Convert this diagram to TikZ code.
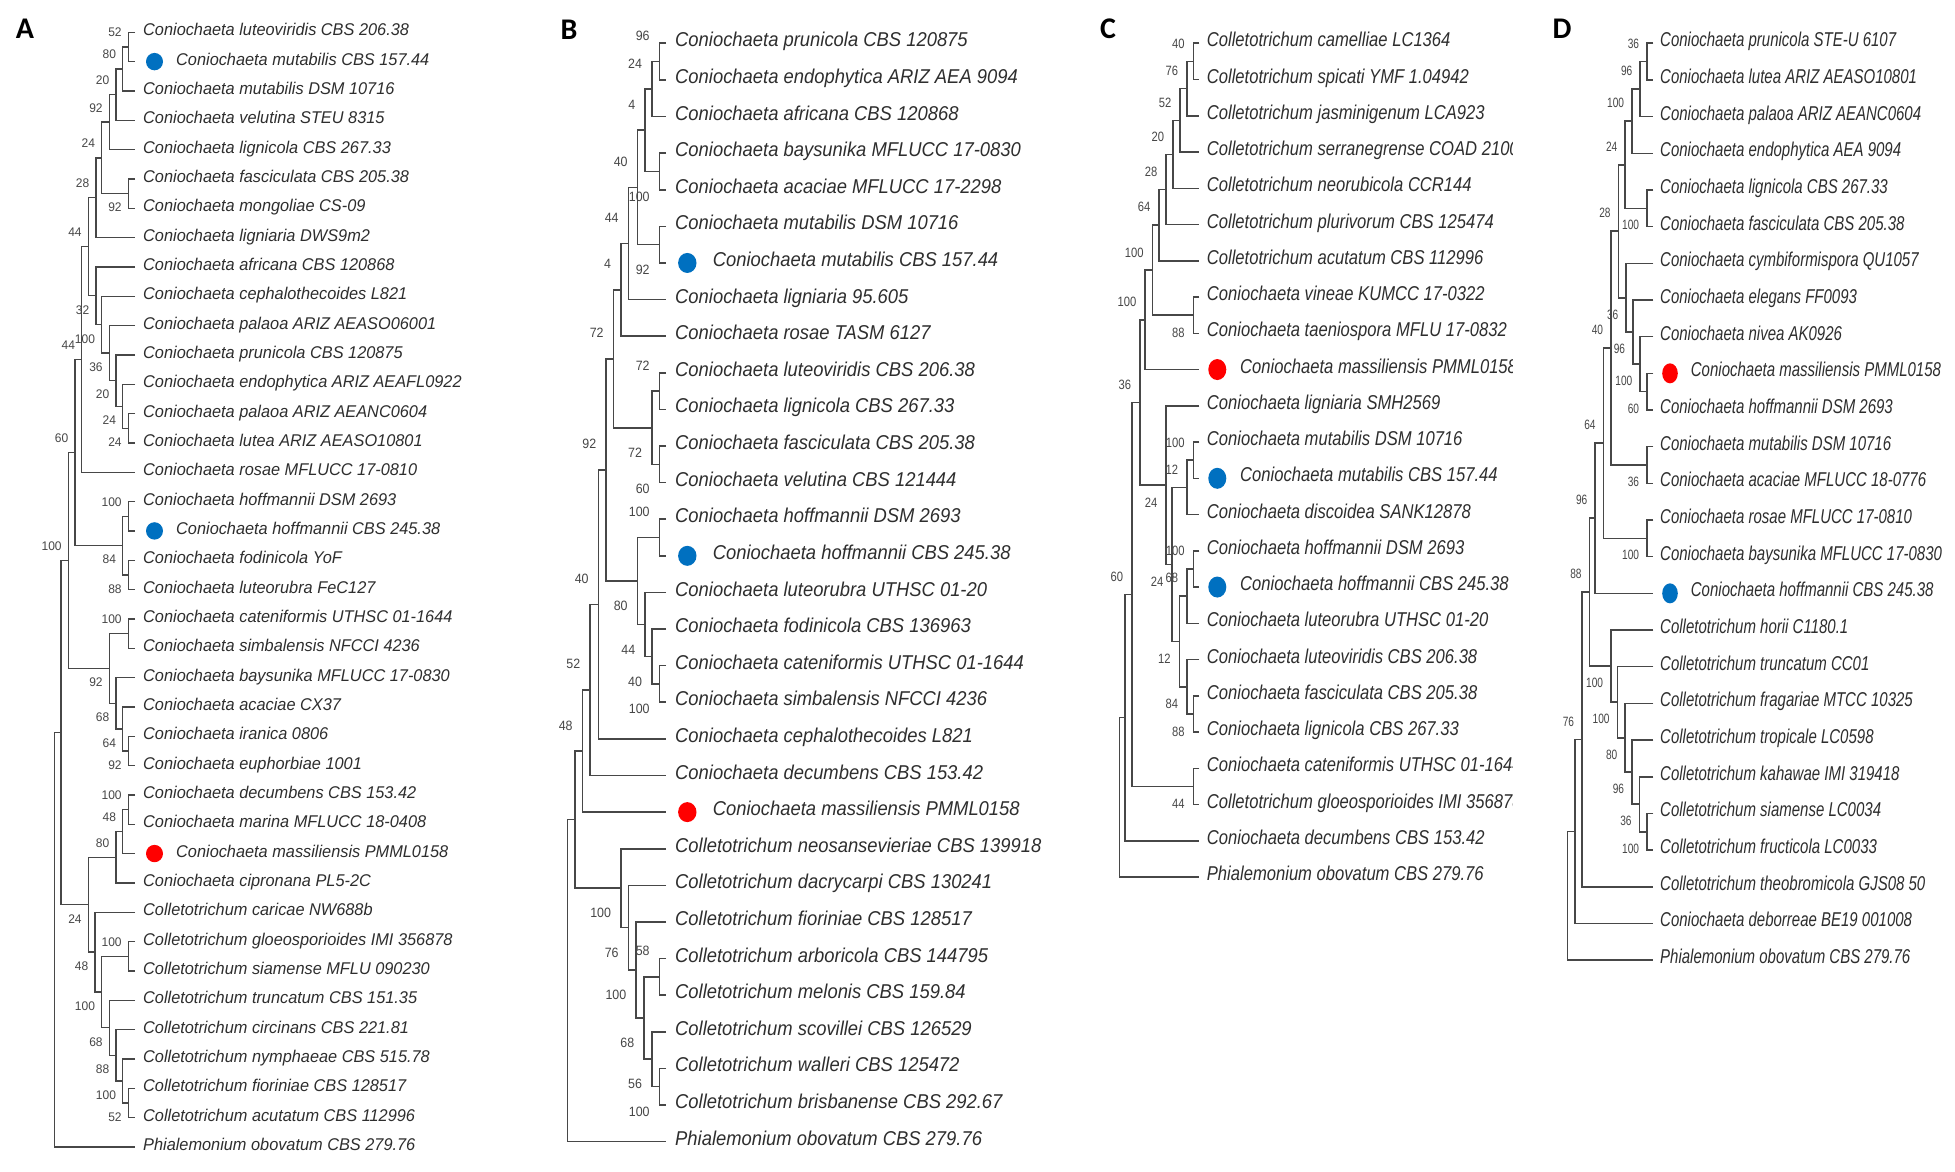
\documentclass[tikz,border=0pt]{standalone}
\usepackage{fontspec}
\setmainfont{Liberation Sans}
\newfontfamily\famA[FakeStretch=0.96]{Liberation Sans}
\newfontfamily\famB[FakeStretch=0.92]{Liberation Sans}
\newfontfamily\famC[FakeStretch=0.83]{Liberation Sans}
\newfontfamily\famD[FakeStretch=0.75]{Liberation Sans}
\newfontfamily\famL{Carlito}
\usetikzlibrary{calc}
\definecolor{bluedot}{RGB}{0,112,192}
\definecolor{reddot}{RGB}{255,0,0}
\tikzset{
  branch/.style={draw=black!72, line width=1.6pt},
  taxon/.style={anchor=west, inner sep=0pt, text height=.716em, text depth=0pt, text=black!82},
  support/.style={anchor=east, inner sep=0pt, text height=.716em, text depth=0pt, text=black!72},
  panel/.style={inner sep=0pt, text height=.644em, text depth=0pt, font=\famL\bfseries\fontsize{30}{30}\selectfont}
}
% tip: name, row, text
\newcommand\leaf[3]{%
  \coordinate (#1) at (\tipx,{\yzero+(#2-1)*\pitch});
  \node[taxon] (#1t) at ([xshift=\gap]#1) {#3};}
% tip with a marker: name, row, colour, text
\newcommand\dotleaf[4]{%
  \coordinate (#1) at (\tipx,{\yzero+(#2-1)*\pitch});
  \fill[#3] ([xshift=\dotx]#1) ellipse[x radius=\dotrx, y radius=\dotry];
  \node[taxon] (#1t) at ([xshift=\dottx]#1) {#4};}
% inner node: name, x, upper child, lower child, support, side
\newcommand\clade[6]{%
  \path let \p1=(#3), \p2=(#4) in (#2pt,{0.5*(\y1+\y2)}) coordinate (#1);
  \draw[branch] (#3) -| (#1) |- (#4);
  \node[support,#6] (#1s) at (#1) {#5};}

\begin{document}
\begin{tikzpicture}[x=1pt,y=-1pt]
\fill[white] (0,0) rectangle (1955,1172);
\useasboundingbox (0,0) rectangle (1955,1172);

\node[panel] (labA) at (25,35) {A};
\node[panel] (labB) at (569,36) {B};
\node[panel] (labC) at (1108,35) {C};
\node[panel] (labD) at (1562,35) {D};

% panel A
\begin{scope}[taxon/.append style={font=\famA\itshape\fontsize{17}{17}\selectfont},
  support/.append style={font=\famA\fontsize{12.5}{12.5}\selectfont},
  bsup/.style={xshift=-6.5pt,yshift=13.7pt}, bsdn/.style={xshift=-6.5pt,yshift=-14.8pt},
  branch/.append style={line width=1.3pt}]
\def\tipx{135}\def\yzero{32.3}\def\pitch{29.33}\def\gap{8pt}
\def\dotx{19.5pt}\def\dotrx{8.5pt}\def\dotry{8.7pt}\def\dottx{41pt}
\leaf{A1}{1}{Coniochaeta luteoviridis CBS 206.38}
\dotleaf{A2}{2}{bluedot}{Coniochaeta mutabilis CBS 157.44}
\leaf{A3}{3}{Coniochaeta mutabilis DSM 10716}
\leaf{A4}{4}{Coniochaeta velutina STEU 8315}
\leaf{A5}{5}{Coniochaeta lignicola CBS 267.33}
\leaf{A6}{6}{Coniochaeta fasciculata CBS 205.38}
\leaf{A7}{7}{Coniochaeta mongoliae CS-09}
\leaf{A8}{8}{Coniochaeta ligniaria DWS9m2}
\leaf{A9}{9}{Coniochaeta africana CBS 120868}
\leaf{A10}{10}{Coniochaeta cephalothecoides L821}
\leaf{A11}{11}{Coniochaeta palaoa ARIZ AEASO06001}
\leaf{A12}{12}{Coniochaeta prunicola CBS 120875}
\leaf{A13}{13}{Coniochaeta endophytica ARIZ AEAFL0922}
\leaf{A14}{14}{Coniochaeta palaoa ARIZ AEANC0604}
\leaf{A15}{15}{Coniochaeta lutea ARIZ AEASO10801}
\leaf{A16}{16}{Coniochaeta rosae MFLUCC 17-0810}
\leaf{A17}{17}{Coniochaeta hoffmannii DSM 2693}
\dotleaf{A18}{18}{bluedot}{Coniochaeta hoffmannii CBS 245.38}
\leaf{A19}{19}{Coniochaeta fodinicola YoF}
\leaf{A20}{20}{Coniochaeta luteorubra FeC127}
\leaf{A21}{21}{Coniochaeta cateniformis UTHSC 01-1644}
\leaf{A22}{22}{Coniochaeta simbalensis NFCCI 4236}
\leaf{A23}{23}{Coniochaeta baysunika MFLUCC 17-0830}
\leaf{A24}{24}{Coniochaeta acaciae CX37}
\leaf{A25}{25}{Coniochaeta iranica 0806}
\leaf{A26}{26}{Coniochaeta euphorbiae 1001}
\leaf{A27}{27}{Coniochaeta decumbens CBS 153.42}
\leaf{A28}{28}{Coniochaeta marina MFLUCC 18-0408}
\dotleaf{A29}{29}{reddot}{Coniochaeta massiliensis PMML0158}
\leaf{A30}{30}{Coniochaeta cipronana PL5-2C}
\leaf{A31}{31}{Colletotrichum caricae NW688b}
\leaf{A32}{32}{Colletotrichum gloeosporioides IMI 356878}
\leaf{A33}{33}{Colletotrichum siamense MFLU 090230}
\leaf{A34}{34}{Colletotrichum truncatum CBS 151.35}
\leaf{A35}{35}{Colletotrichum circinans CBS 221.81}
\leaf{A36}{36}{Colletotrichum nymphaeae CBS 515.78}
\leaf{A37}{37}{Colletotrichum fioriniae CBS 128517}
\leaf{A38}{38}{Colletotrichum acutatum CBS 112996}
\leaf{A39}{39}{Phialemonium obovatum CBS 279.76}
\clade{Aa1}{128.3}{A1}{A2}{52}{bsup}
\clade{Aa2}{122.7}{Aa1}{A3}{80}{bsup}
\clade{Aa3}{116}{Aa2}{A4}{20}{bsup}
\clade{Aa4}{109.3}{Aa3}{A5}{92}{bsup}
\clade{Aa5}{128.3}{A6}{A7}{92}{bsdn}
\clade{Aa6}{101.7}{Aa4}{Aa5}{24}{bsup}
\clade{Aa7}{96}{Aa6}{A8}{28}{bsup}
\clade{Ab1}{128.3}{A14}{A15}{24}{bsdn}
\clade{Ab2}{122.7}{A13}{Ab1}{24}{bsdn}
\clade{Ab3}{116}{A12}{Ab2}{20}{bsdn}
\clade{Ab4}{109.3}{A11}{Ab3}{36}{bsdn}
\clade{Ab5}{101.7}{A10}{Ab4}{100}{bsdn}
\clade{Ab6}{96}{A9}{Ab5}{32}{bsdn}
\clade{Ac1}{88.3}{Aa7}{Ab6}{44}{bsup}
\clade{Ac2}{81.7}{Ac1}{A16}{44}{bsup}
\clade{Ad1}{128.3}{A17}{A18}{100}{bsup}
\clade{Ad2}{128.3}{A19}{A20}{88}{bsdn}
\clade{Ad3}{122.7}{Ad1}{Ad2}{84}{bsdn}
\clade{Ae1}{75}{Ac2}{Ad3}{60}{bsup}
\clade{Af1}{128.3}{A21}{A22}{100}{bsup}
\clade{Af2}{128.3}{A25}{A26}{92}{bsdn}
\clade{Af3}{122.7}{A24}{Af2}{64}{bsdn}
\clade{Af4}{116}{A23}{Af3}{68}{bsdn}
\clade{Af5}{109.3}{Af1}{Af4}{92}{bsdn}
\clade{Ae2}{68.3}{Ae1}{Af5}{100}{bsup}
\clade{Ag1}{128.3}{A27}{A28}{100}{bsup}
\clade{Ag2}{122.7}{Ag1}{A29}{48}{bsup}
\clade{Ag3}{116}{Ag2}{A30}{80}{bsup}
\clade{Ah1}{128.3}{A32}{A33}{100}{bsup}
\clade{Ah2}{128.3}{A37}{A38}{52}{bsdn}
\clade{Ah3}{122.7}{A36}{Ah2}{100}{bsdn}
\clade{Ah4}{116}{A35}{Ah3}{88}{bsdn}
\clade{Ah5}{109.3}{A34}{Ah4}{68}{bsdn}
\clade{Ah6}{101.7}{Ah1}{Ah5}{100}{bsdn}
\clade{Ah7}{95}{A31}{Ah6}{48}{bsdn}
\clade{Ai1}{88.3}{Ag3}{Ah7}{24}{bsdn}
\clade{Aj1}{61}{Ae2}{Ai1}{}{bsup}
\clade{Aroot}{54.3}{Aj1}{A39}{}{bsup}
\end{scope}

% panel B
\begin{scope}[taxon/.append style={font=\famB\itshape\fontsize{20}{20}\selectfont},
  support/.append style={font=\famB\fontsize{13.5}{13.5}\selectfont},
  bsup/.style={xshift=-9.5pt,yshift=24.6pt}, bsdn/.style={xshift=-9.5pt,yshift=-26pt}]
\def\tipx{666}\def\yzero{43.3}\def\pitch{36.61}\def\gap{9pt}
\def\dotx{21.3pt}\def\dotrx{9.2pt}\def\dotry{10pt}\def\dottx{46.7pt}
\leaf{B1}{1}{Coniochaeta prunicola CBS 120875}
\leaf{B2}{2}{Coniochaeta endophytica ARIZ AEA 9094}
\leaf{B3}{3}{Coniochaeta africana CBS 120868}
\leaf{B4}{4}{Coniochaeta baysunika MFLUCC 17-0830}
\leaf{B5}{5}{Coniochaeta acaciae MFLUCC 17-2298}
\leaf{B6}{6}{Coniochaeta mutabilis DSM 10716}
\dotleaf{B7}{7}{bluedot}{Coniochaeta mutabilis CBS 157.44}
\leaf{B8}{8}{Coniochaeta ligniaria 95.605}
\leaf{B9}{9}{Coniochaeta rosae TASM 6127}
\leaf{B10}{10}{Coniochaeta luteoviridis CBS 206.38}
\leaf{B11}{11}{Coniochaeta lignicola CBS 267.33}
\leaf{B12}{12}{Coniochaeta fasciculata CBS 205.38}
\leaf{B13}{13}{Coniochaeta velutina CBS 121444}
\leaf{B14}{14}{Coniochaeta hoffmannii DSM 2693}
\dotleaf{B15}{15}{bluedot}{Coniochaeta hoffmannii CBS 245.38}
\leaf{B16}{16}{Coniochaeta luteorubra UTHSC 01-20}
\leaf{B17}{17}{Coniochaeta fodinicola CBS 136963}
\leaf{B18}{18}{Coniochaeta cateniformis UTHSC 01-1644}
\leaf{B19}{19}{Coniochaeta simbalensis NFCCI 4236}
\leaf{B20}{20}{Coniochaeta cephalothecoides L821}
\leaf{B21}{21}{Coniochaeta decumbens CBS 153.42}
\dotleaf{B22}{22}{reddot}{Coniochaeta massiliensis PMML0158}
\leaf{B23}{23}{Colletotrichum neosansevieriae CBS 139918}
\leaf{B24}{24}{Colletotrichum dacrycarpi CBS 130241}
\leaf{B25}{25}{Colletotrichum fioriniae CBS 128517}
\leaf{B26}{26}{Colletotrichum arboricola CBS 144795}
\leaf{B27}{27}{Colletotrichum melonis CBS 159.84}
\leaf{B28}{28}{Colletotrichum scovillei CBS 126529}
\leaf{B29}{29}{Colletotrichum walleri CBS 125472}
\leaf{B30}{30}{Colletotrichum brisbanense CBS 292.67}
\leaf{B31}{31}{Phialemonium obovatum CBS 279.76}
\clade{Bp1}{659.3}{B1}{B2}{96}{bsup}
\clade{Bp2}{651.7}{Bp1}{B3}{24}{bsup}
\clade{Bp3}{659.3}{B4}{B5}{100}{bsdn}
\clade{Bp4}{645}{Bp2}{Bp3}{4}{bsup}
\clade{Bp5}{659.3}{B6}{B7}{92}{bsdn}
\clade{Bp6}{637.3}{Bp4}{Bp5}{40}{bsup}
\clade{Bp7}{628.3}{Bp6}{B8}{44}{bsup}
\clade{Bp8}{620.7}{Bp7}{B9}{4}{bsup}
\clade{Bq1}{659.3}{B10}{B11}{72}{bsup}
\clade{Bq2}{659.3}{B12}{B13}{60}{bsdn}
\clade{Bq3}{651.7}{Bq1}{Bq2}{72}{bsdn}
\clade{Bq4}{659.3}{B14}{B15}{100}{bsup}
\clade{Bq5}{659.3}{B18}{B19}{100}{bsdn}
\clade{Bq6}{651.7}{B17}{Bq5}{40}{bsdn}
\clade{Bq7}{645}{B16}{Bq6}{44}{bsdn}
\clade{Bq8}{637.3}{Bq4}{Bq7}{80}{bsdn}
\clade{Br1}{613.3}{Bp8}{Bq3}{72}{bsup}
\clade{Br2}{606}{Br1}{Bq8}{92}{bsup}
\clade{Br3}{598.3}{Br2}{B20}{40}{bsup}
\clade{Br4}{590}{Br3}{B21}{52}{bsup}
\clade{Br5}{582.3}{Br4}{B22}{48}{bsup}
\clade{Bs1}{659.3}{B26}{B27}{58}{bsup}
\clade{Bs2}{659.3}{B29}{B30}{100}{bsdn}
\clade{Bs3}{651.7}{B28}{Bs2}{56}{bsdn}
\clade{Bs4}{644}{Bs1}{Bs3}{68}{bsdn}
\clade{Bs5}{636}{B25}{Bs4}{100}{bsdn}
\clade{Bs6}{628.3}{B24}{Bs5}{76}{bsdn}
\clade{Bs7}{620.7}{B23}{Bs6}{100}{bsdn}
\clade{Br6}{575}{Br5}{Bs7}{}{bsup}
\clade{Broot}{567.3}{Br6}{B31}{}{bsup}
\end{scope}

% panel C, names cut at the right edge
\begin{scope}[taxon/.append style={font=\famC\itshape\fontsize{20}{20}\selectfont},
  support/.append style={font=\famC\fontsize{13.5}{13.5}\selectfont},
  bsup/.style={xshift=-8.5pt,yshift=16.7pt}, bsdn/.style={xshift=-8.5pt,yshift=-18.5pt}]
\clip (1085,0) rectangle (1512,1172);
\def\tipx{1199.3}\def\yzero{43.3}\def\pitch{36.25}\def\gap{7.4pt}
\def\dotx{18pt}\def\dotrx{9pt}\def\dotry{10.5pt}\def\dottx{40.7pt}
\leaf{C1}{1}{Colletotrichum camelliae LC1364}
\leaf{C2}{2}{Colletotrichum spicati YMF 1.04942}
\leaf{C3}{3}{Colletotrichum jasminigenum LCA923}
\leaf{C4}{4}{Colletotrichum serranegrense COAD 2100}
\leaf{C5}{5}{Colletotrichum neorubicola CCR144}
\leaf{C6}{6}{Colletotrichum plurivorum CBS 125474}
\leaf{C7}{7}{Colletotrichum acutatum CBS 112996}
\leaf{C8}{8}{Coniochaeta vineae KUMCC 17-0322}
\leaf{C9}{9}{Coniochaeta taeniospora MFLU 17-0832}
\dotleaf{C10}{10}{reddot}{Coniochaeta massiliensis PMML0158}
\leaf{C11}{11}{Coniochaeta ligniaria SMH2569}
\leaf{C12}{12}{Coniochaeta mutabilis DSM 10716}
\dotleaf{C13}{13}{bluedot}{Coniochaeta mutabilis CBS 157.44}
\leaf{C14}{14}{Coniochaeta discoidea SANK12878}
\leaf{C15}{15}{Coniochaeta hoffmannii DSM 2693}
\dotleaf{C16}{16}{bluedot}{Coniochaeta hoffmannii CBS 245.38}
\leaf{C17}{17}{Coniochaeta luteorubra UTHSC 01-20}
\leaf{C18}{18}{Coniochaeta luteoviridis CBS 206.38}
\leaf{C19}{19}{Coniochaeta fasciculata CBS 205.38}
\leaf{C20}{20}{Coniochaeta lignicola CBS 267.33}
\leaf{C21}{21}{Coniochaeta cateniformis UTHSC 01-1644}
\leaf{C22}{22}{Colletotrichum gloeosporioides IMI 356878}
\leaf{C23}{23}{Coniochaeta decumbens CBS 153.42}
\leaf{C24}{24}{Phialemonium obovatum CBS 279.76}
\clade{Ct1}{1193.3}{C1}{C2}{40}{bsup}
\clade{Ct2}{1186.7}{Ct1}{C3}{76}{bsup}
\clade{Ct3}{1180}{Ct2}{C4}{52}{bsup}
\clade{Ct4}{1172.7}{Ct3}{C5}{20}{bsup}
\clade{Ct5}{1166}{Ct4}{C6}{28}{bsup}
\clade{Ct6}{1159}{Ct5}{C7}{64}{bsup}
\clade{Ct7}{1193.3}{C8}{C9}{88}{bsdn}
\clade{Ct8}{1152.3}{Ct6}{Ct7}{100}{bsup}
\clade{Ct9}{1145}{Ct8}{C10}{100}{bsup}
\clade{Cu1}{1193.3}{C12}{C13}{100}{bsup}
\clade{Cu2}{1186.7}{Cu1}{C14}{12}{bsup}
\clade{Cu3}{1193.3}{C15}{C16}{100}{bsup}
\clade{Cu4}{1186.7}{Cu3}{C17}{68}{bsup}
\clade{Cu5}{1193.3}{C19}{C20}{88}{bsdn}
\clade{Cu6}{1186.7}{C18}{Cu5}{84}{bsdn}
\clade{Cu7}{1179.3}{Cu4}{Cu6}{12}{bsdn}
\clade{Cu8}{1172}{Cu2}{Cu7}{24}{bsdn}
\clade{Cu9}{1166}{C11}{Cu8}{24}{bsdn}
\clade{Cu10}{1139.8}{Ct9}{Cu9}{36}{bsup}
\clade{Cv1}{1193.3}{C21}{C22}{44}{bsdn}
\clade{Cu11}{1131.7}{Cu10}{Cv1}{60}{bsup}
\clade{Cu12}{1125}{Cu11}{C23}{}{bsup}
\clade{Croot}{1119.3}{Cu12}{C24}{}{bsup}
\end{scope}

% panel D
\begin{scope}[taxon/.append style={font=\famD\itshape\fontsize{20}{20}\selectfont},
  support/.append style={font=\famD\fontsize{13.5}{13.5}\selectfont},
  bsup/.style={xshift=-7.5pt,yshift=17pt}, bsdn/.style={xshift=-7.5pt,yshift=-18pt}]
\def\tipx{1653.3}\def\yzero{43.3}\def\pitch{36.67}\def\gap{6.7pt}
\def\dotx{16.7pt}\def\dotrx{7.8pt}\def\dotry{10pt}\def\dottx{37.4pt}
\leaf{D1}{1}{Coniochaeta prunicola STE-U 6107}
\leaf{D2}{2}{Coniochaeta lutea ARIZ AEASO10801}
\leaf{D3}{3}{Coniochaeta palaoa ARIZ AEANC0604}
\leaf{D4}{4}{Coniochaeta endophytica AEA 9094}
\leaf{D5}{5}{Coniochaeta lignicola CBS 267.33}
\leaf{D6}{6}{Coniochaeta fasciculata CBS 205.38}
\leaf{D7}{7}{Coniochaeta cymbiformispora QU1057}
\leaf{D8}{8}{Coniochaeta elegans FF0093}
\leaf{D9}{9}{Coniochaeta nivea AK0926}
\dotleaf{D10}{10}{reddot}{Coniochaeta massiliensis PMML0158}
\leaf{D11}{11}{Coniochaeta hoffmannii DSM 2693}
\leaf{D12}{12}{Coniochaeta mutabilis DSM 10716}
\leaf{D13}{13}{Coniochaeta acaciae MFLUCC 18-0776}
\leaf{D14}{14}{Coniochaeta rosae MFLUCC 17-0810}
\leaf{D15}{15}{Coniochaeta baysunika MFLUCC 17-0830}
\dotleaf{D16}{16}{bluedot}{Coniochaeta hoffmannii CBS 245.38}
\leaf{D17}{17}{Colletotrichum horii C1180.1}
\leaf{D18}{18}{Colletotrichum truncatum CC01}
\leaf{D19}{19}{Colletotrichum fragariae MTCC 10325}
\leaf{D20}{20}{Colletotrichum tropicale LC0598}
\leaf{D21}{21}{Colletotrichum kahawae IMI 319418}
\leaf{D22}{22}{Colletotrichum siamense LC0034}
\leaf{D23}{23}{Colletotrichum fructicola LC0033}
\leaf{D24}{24}{Colletotrichum theobromicola GJS08 50}
\leaf{D25}{25}{Coniochaeta deborreae BE19 001008}
\leaf{D26}{26}{Phialemonium obovatum CBS 279.76}
\clade{Dw1}{1646.7}{D1}{D2}{36}{bsup}
\clade{Dw2}{1640}{Dw1}{D3}{96}{bsup}
\clade{Dw3}{1631.7}{Dw2}{D4}{100}{bsup}
\clade{Dw4}{1646.7}{D5}{D6}{100}{bsdn}
\clade{Dw5}{1625}{Dw3}{Dw4}{24}{bsup}
\clade{Dw6}{1646.7}{D10}{D11}{60}{bsdn}
\clade{Dw7}{1640}{D9}{Dw6}{100}{bsdn}
\clade{Dw8}{1632.7}{D8}{Dw7}{96}{bsdn}
\clade{Dw9}{1626}{D7}{Dw8}{36}{bsdn}
\clade{Dw10}{1618.3}{Dw5}{Dw9}{28}{bsup}
\clade{Dw11}{1646.7}{D12}{D13}{36}{bsdn}
\clade{Dw12}{1610.7}{Dw10}{Dw11}{40}{bsup}
\clade{Dw13}{1646.7}{D14}{D15}{100}{bsdn}
\clade{Dw14}{1603.3}{Dw12}{Dw13}{64}{bsup}
\clade{Dw15}{1595}{Dw14}{D16}{96}{bsup}
\clade{Dx1}{1646.7}{D22}{D23}{100}{bsdn}
\clade{Dx2}{1639.3}{D21}{Dx1}{36}{bsdn}
\clade{Dx3}{1631.7}{D20}{Dx2}{96}{bsdn}
\clade{Dx4}{1625}{D19}{Dx3}{80}{bsdn}
\clade{Dx5}{1617.3}{D18}{Dx4}{100}{bsdn}
\clade{Dx6}{1610.7}{D17}{Dx5}{100}{bsdn}
\clade{Dx7}{1589.3}{Dw15}{Dx6}{88}{bsup}
\clade{Dx8}{1581.7}{Dx7}{D24}{76}{bsup}
\clade{Dx9}{1575}{Dx8}{D25}{}{bsup}
\clade{Droot}{1567.3}{Dx9}{D26}{}{bsup}
\end{scope}
\end{tikzpicture}
\end{document}
